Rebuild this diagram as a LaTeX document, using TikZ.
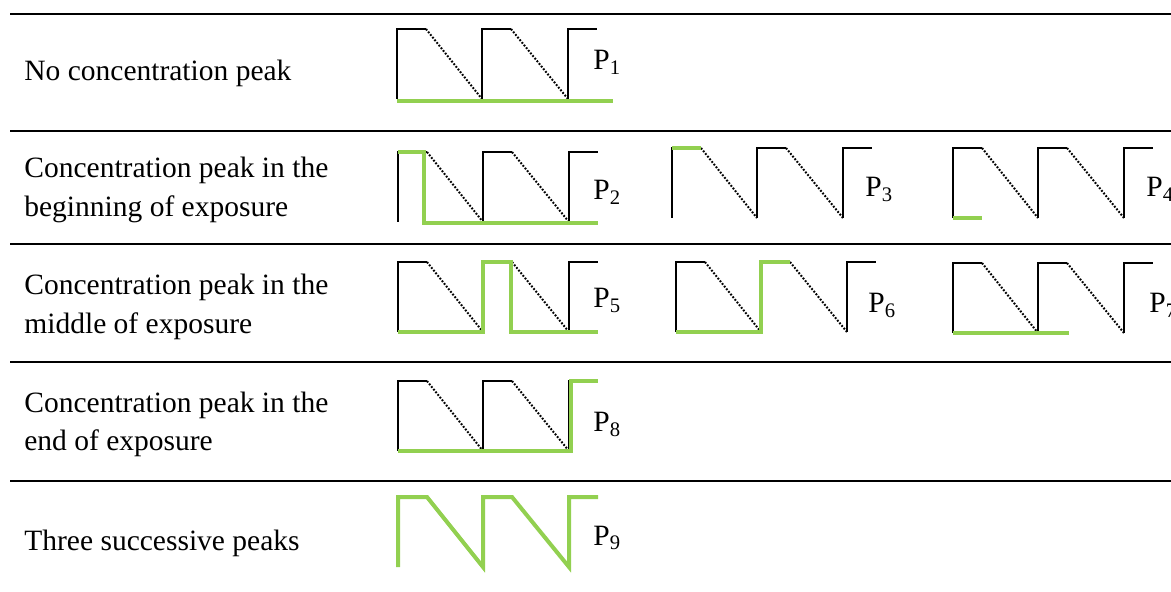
\documentclass[tikz,border=0pt]{standalone}
\usepackage{fontspec}
\setmainfont{Liberation Serif}
\definecolor{peakgreen}{RGB}{146,208,80}
\newcommand{\cycleframe}{%
  \draw[trace] (0,70)--(0,0)--(29,0);
  \draw[decay] (29,0)--(85,70);
  \draw[trace] (85,70)--(85,0)--(114,0);
  \draw[decay] (114,0)--(171,70);
  \draw[trace] (171,70)--(171,0)--(200,0);}
\begin{document}
\begin{tikzpicture}[x=0.5pt,y=-0.5pt,
  rule/.style={line width=1.2pt},
  trace/.style={line width=0.8pt},
  decay/.style={line width=1pt,dash pattern=on 0.9pt off 0.8pt},
  peak/.style={peakgreen,line width=2pt},
  rowtext/.style={anchor=base west,inner sep=0pt,font=\fontsize{14.75}{19.5}\selectfont},
  plabel/.style={anchor=base west,inner sep=0pt,font=\fontsize{14.75}{19.5}\selectfont}]
\useasboundingbox (0,0) rectangle (1171,592);
% table rules
\foreach \y in {14,131,244,362,481}
  \draw[rule] (10,\y)--(1171,\y);
% row 1: no peak
\node[rowtext] (r1) at (24,81) {No concentration peak};
\begin{scope}[shift={(397,29)}]
  \cycleframe
  \draw[peak] (0,72)--(216,72);
\end{scope}
\node[plabel] (p1) at (593,70) {P\textsubscript{1}};
% row 2: peak at the beginning
\node[rowtext] (r2a) at (24,178) {Concentration peak in the};
\node[rowtext] (r2b) at (24,217) {beginning of exposure};
\begin{scope}[shift={(398,152)}]
  \cycleframe
  \draw[peak] (0,0)--(26,0)--(26,71)--(200,71);
\end{scope}
\node[plabel] (p2) at (593,200) {P\textsubscript{2}};
\begin{scope}[shift={(672,148)}]
  \cycleframe
  \draw[peak] (0,0)--(29,0);
\end{scope}
\node[plabel] (p3) at (865,197) {P\textsubscript{3}};
\begin{scope}[shift={(953,148)}]
  \cycleframe
  \draw[peak] (0,70)--(29,70);
\end{scope}
\node[plabel] (p4) at (1146,197) {P\textsubscript{4}};
% row 3: peak in the middle
\node[rowtext] (r3a) at (24,295) {Concentration peak in the};
\node[rowtext] (r3b) at (24,334) {middle of exposure};
\begin{scope}[shift={(398,262)}]
  \cycleframe
  \draw[peak] (0,70)--(85,70)--(85,0)--(113,0)--(113,70)--(200,70);
\end{scope}
\node[plabel] (p5) at (593,308) {P\textsubscript{5}};
\begin{scope}[shift={(676,262)}]
  \cycleframe
  \draw[peak] (0,70)--(85,70)--(85,0)--(114,0);
\end{scope}
\node[plabel] (p6) at (868,313) {P\textsubscript{6}};
\begin{scope}[shift={(953,263)}]
  \cycleframe
  \draw[peak] (0,70)--(116,70);
\end{scope}
\node[plabel] (p7) at (1149,313) {P\textsubscript{7}};
% row 4: peak at the end
\node[rowtext] (r4a) at (24,413) {Concentration peak in the};
\node[rowtext] (r4b) at (24,451) {end of exposure};
\begin{scope}[shift={(398,381)}]
  \cycleframe
  \draw[peak] (0,70)--(173,70)--(173,0)--(200,0);
\end{scope}
\node[plabel] (p8) at (593,432) {P\textsubscript{8}};
% row 5: three peaks
\node[rowtext] (r5) at (24,550) {Three successive peaks};
\begin{scope}[shift={(398,497)}]
  \draw[peak] (0,70)--(0,0)--(29,0)--(85,70)--(85,0)--(114,0)--(171,70)--(171,0)--(200,0);
\end{scope}
\node[plabel] (p9) at (593,545) {P\textsubscript{9}};
\end{tikzpicture}
\end{document}
